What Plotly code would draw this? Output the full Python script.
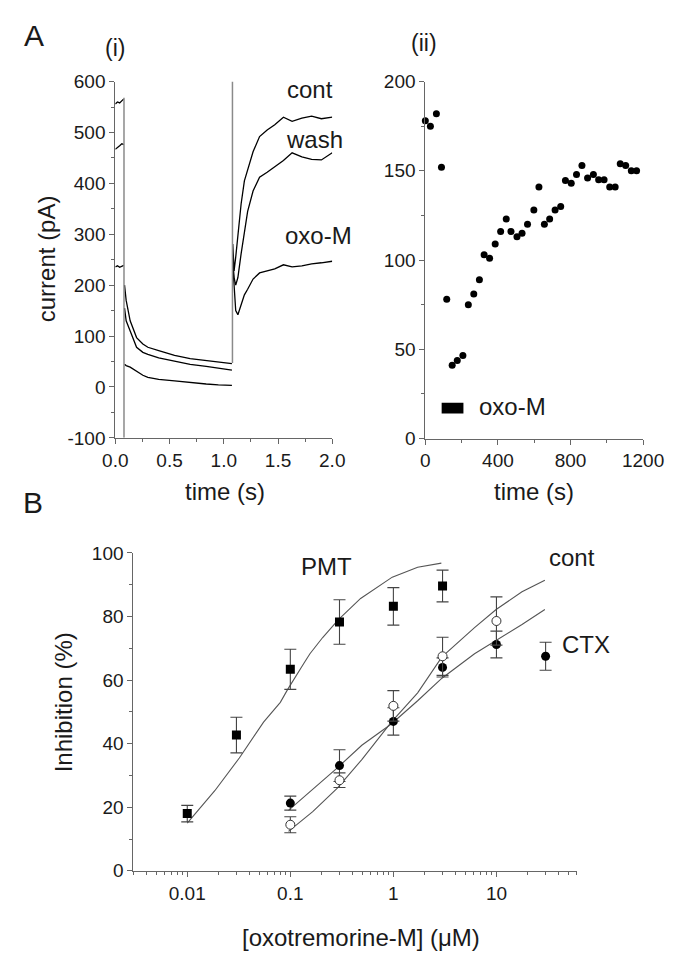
import plotly.graph_objects as go

# ---- panel A(i): current traces (pA) vs time (s) ----
t_pre = [0.0, 0.02, 0.04, 0.06, 0.078]
cont_pre = [556, 560, 558, 563, 566]
wash_pre = [467, 470, 474, 478, 476]
oxo_pre = [236, 238, 235, 237, 239]

t_dec = [0.085, 0.1, 0.137, 0.196, 0.254, 0.30, 0.40, 0.546, 0.69, 0.838, 0.95, 1.075]
cont_dec = [200, 170, 130, 97, 84.5, 78, 71.6, 62, 55.5, 52, 49, 46]
wash_dec = [155, 130, 110, 78, 68, 64, 57, 51, 44.5, 40.6, 37, 33]
oxo_dec = [44.5, 42, 39, 31.5, 23, 19, 15, 12, 8.4, 5.8, 4, 3]

t_rec = [1.083, 1.095, 1.11, 1.13, 1.16, 1.19, 1.22, 1.27, 1.33, 1.40, 1.47, 1.55, 1.63, 1.72, 1.81, 1.90, 2.0]
cont_rec = [281, 228, 255, 300, 360, 405, 425, 462, 492, 505, 515, 530, 522, 528, 532, 527, 530]
wash_rec = [250, 215, 200, 215, 262, 300, 345, 385, 412, 422, 433, 445, 460, 452, 447, 446, 460]
oxo_rec = [240, 200, 150, 142, 160, 181, 192, 212, 224, 228, 232, 240, 236, 238, 242, 244, 247]

transient_t = [0.08, 1.08]
transient_lo = [-100, 47]
transient_hi = [568, 600]

a1_yticks = [-100, 0, 100, 200, 300, 400, 500, 600]
a1_yticktext = ["-100", "0", "100", "200", "300", "400", "500", "600"]

# ---- panel A(ii): current (pA) vs time (s) ----
time_s = [0, 28, 61, 89, 118, 148, 176, 207, 237, 267, 298, 324, 354, 385, 415, 446,
          472, 505, 533, 563, 598, 626, 656, 685, 715, 746, 772, 804, 833, 863, 894,
          926, 955, 985, 1016, 1046, 1074, 1104, 1135, 1164]
amp_pa = [178, 175, 182, 152, 78, 41, 43.7, 46.5, 75, 81, 89, 103, 101, 109, 116, 123,
          116, 113, 115, 120, 128, 141, 120, 123, 128, 130, 144.6, 143, 148, 153, 146,
          148, 145, 145, 141, 141, 154, 153, 150, 150]
oxo_bar = [90, 210]

# ---- panel B: inhibition (%) vs [oxotremorine-M] (uM) ----
conc_pmt = [0.01, 0.03, 0.1, 0.3, 1, 3]
inh_pmt = [18.0, 42.7, 63.4, 78.3, 83.2, 89.6]
err_pmt = [2.6, 5.6, 6.3, 7.0, 5.9, 5.0]
conc_cont = [0.1, 0.3, 1, 3, 10]
inh_cont = [14.5, 28.5, 51.9, 67.5, 78.6]
err_cont = [2.5, 2.3, 4.8, 6.0, 7.6]
conc_ctx = [0.1, 0.3, 1, 3, 10, 30]
inh_ctx = [21.3, 33.1, 47.0, 64.0, 71.2, 67.5]
err_ctx = [2.2, 5.0, 4.3, 3.0, 4.2, 4.4]

pmt_fit_x = [0.01, 0.0185, 0.032, 0.055, 0.08, 0.094, 0.135, 0.155, 0.206, 0.293, 0.481, 0.975, 1.72, 2.92]
pmt_fit_y = [15, 25.2, 35.5, 46.8, 53, 57, 65.2, 68.3, 73.4, 79, 85.7, 92.4, 95.5, 96.8]
cont_fit_x = [0.096, 0.165, 0.286, 0.494, 0.955, 1.72, 2.96, 6.13, 9.93, 17.7, 29.5]
cont_fit_y = [12.4, 18.6, 26, 35, 46.8, 56, 67.3, 76.5, 82.2, 87.8, 91.4]
ctx_fit_x = [0.096, 0.165, 0.286, 0.494, 0.955, 1.72, 2.96, 6.13, 9.93, 17.7, 29.5]
ctx_fit_y = [19, 25.5, 32.4, 39.5, 46.2, 53.5, 60.6, 68.3, 72.4, 77.5, 82.2]

W, H = 677, 955
FONT = "Arial, Liberation Sans, sans-serif"
AXC = "#666666"
TXT = "#1a1a1a"


def px(x):
    return x / W


def py(y):
    return 1 - y / H


fig = go.Figure()

# A(i) traces
for pre, dec, rec in [(cont_pre, cont_dec, cont_rec),
                      (wash_pre, wash_dec, wash_rec),
                      (oxo_pre, oxo_dec, oxo_rec)]:
    fig.add_trace(go.Scatter(
        x=t_pre + [None] + t_dec + [None] + t_rec,
        y=pre + [None] + dec + [None] + rec,
        mode="lines", line=dict(color="black", width=1.3),
        xaxis="x", yaxis="y", showlegend=False
    ))
for t, lo, hi in zip(transient_t, transient_lo, transient_hi):
    fig.add_trace(go.Scatter(
        x=[t, t], y=[lo, hi], mode="lines",
        line=dict(color="#8a8a8a", width=1.5),
        xaxis="x", yaxis="y", showlegend=False
    ))

# A(ii) points
fig.add_trace(go.Scatter(
    x=time_s, y=amp_pa, mode="markers",
    marker=dict(color="black", size=7, symbol="circle"),
    xaxis="x2", yaxis="y2", showlegend=False, cliponaxis=False
))

# B fits
for fx, fy in [(pmt_fit_x, pmt_fit_y), (cont_fit_x, cont_fit_y), (ctx_fit_x, ctx_fit_y)]:
    fig.add_trace(go.Scatter(
        x=fx, y=fy, mode="lines", line=dict(color="#555555", width=1.1),
        xaxis="x3", yaxis="y3", showlegend=False
    ))

# B data points
err_style = dict(type="data", color="#444444", thickness=1.1, width=6)
fig.add_trace(go.Scatter(
    x=conc_pmt, y=inh_pmt, mode="markers",
    error_y=dict(array=err_pmt, **err_style),
    marker=dict(color="black", size=9, symbol="square"),
    xaxis="x3", yaxis="y3", showlegend=False
))
fig.add_trace(go.Scatter(
    x=conc_ctx, y=inh_ctx, mode="markers",
    error_y=dict(array=err_ctx, **err_style),
    marker=dict(color="black", size=9, symbol="circle"),
    xaxis="x3", yaxis="y3", showlegend=False
))
fig.add_trace(go.Scatter(
    x=conc_cont, y=inh_cont, mode="markers",
    error_y=dict(array=err_cont, **err_style),
    marker=dict(color="white", size=9, symbol="circle",
                line=dict(color="#333333", width=1)),
    xaxis="x3", yaxis="y3", showlegend=False
))

# oxo-M application bar in A(ii)
fig.add_shape(type="rect", xref="x2", yref="y2",
              x0=oxo_bar[0], x1=oxo_bar[1], y0=14, y1=20,
              fillcolor="black", line=dict(width=0))

axis_common = dict(
    showline=True, linecolor=AXC, linewidth=1, showgrid=False, zeroline=False,
    ticks="outside", ticklen=5, tickcolor=AXC, tickwidth=1,
    tickfont=dict(family=FONT, size=19, color=TXT), mirror=False,
)
minor_common = dict(ticks="outside", ticklen=3, tickcolor=AXC, tickwidth=1, showgrid=False)

fig.update_layout(
    width=W, height=H, plot_bgcolor="white", paper_bgcolor="white",
    margin=dict(l=0, r=0, t=0, b=0), showlegend=False,
    xaxis=dict(domain=[px(99.3), px(327.7)], anchor="y", range=[0, 2.0],
               tick0=0, dtick=0.5, tickformat=".1f",
               minor=dict(dtick=0.25, **minor_common), **axis_common),
    yaxis=dict(domain=[py(429.3), py(65)], anchor="x", range=[-100, 600],
               tickvals=a1_yticks, ticktext=a1_yticktext,
               minor=dict(dtick=50, tick0=-100, **minor_common), **axis_common),
    xaxis2=dict(domain=[px(425.7), px(655)], anchor="y2", range=[0, 1200],
                tick0=0, dtick=400,
                minor=dict(dtick=200, **minor_common), **axis_common),
    yaxis2=dict(domain=[py(430), py(65)], anchor="x2", range=[0, 200],
                tick0=0, dtick=50,
                minor=dict(dtick=25, **minor_common), **axis_common),
    xaxis3=dict(domain=[px(118.3), px(585)], anchor="y3", type="log",
                range=[-2.523, 1.778],
                tickvals=[0.01, 0.1, 1, 10], ticktext=["0.01", "0.1", "1", "10"],
                minor=dict(dtick="D1", **minor_common), **axis_common),
    yaxis3=dict(domain=[py(872), py(547)], anchor="x3", range=[0, 100],
                tick0=0, dtick=20,
                minor=dict(dtick=10, **minor_common), **axis_common),
)

labels = [
    ("A", 14, 18, 30, 0),
    ("(i)", 99, 31, 23, 0),
    ("(ii)", 424, 26, 23, 0),
    ("B", 13, 495, 30, 0),
    ("current (pA)", 27, 246, 24, -90),
    ("time (s)", 215, 484, 24, 0),
    ("time (s)", 540, 484, 24, 0),
    ("cont", 304, 73, 24, 0),
    ("wash", 309, 124, 24, 0),
    ("oxo-M", 313, 222, 24, 0),
    ("oxo-M", 517, 397, 24, 0),
    ("Inhibition (%)", 45, 700, 24, -90),
    ("[oxotremorine-M] (μM)", 358, 940, 24, 0),
    ("PMT", 322, 561, 24, 0),
    ("cont", 580, 552, 24, 0),
    ("CTX", 595, 641, 24, 0),
]
for text, x, y, size, ang in labels:
    fig.add_annotation(
        text=text, x=px(x), y=py(y), xref="paper", yref="paper",
        xanchor="center", yanchor="middle", showarrow=False, textangle=ang,
        font=dict(family=FONT, size=size, color=TXT)
    )

fig.write_html("out.html")
